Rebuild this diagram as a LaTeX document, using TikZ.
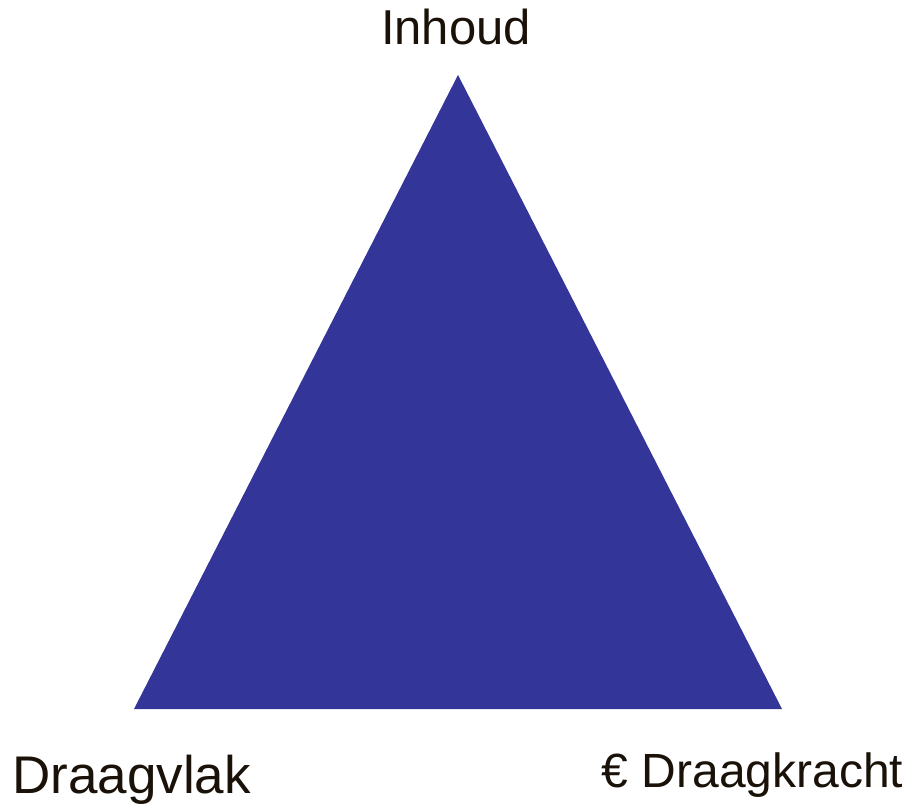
\documentclass[tikz,border=0pt]{standalone}
\usepackage{fontspec}
\setmainfont{Liberation Sans}
\definecolor{triblue}{RGB}{52,53,152}
\definecolor{labelink}{RGB}{26,18,8}
\tikzset{
  corner/.style={anchor=base,text=labelink,inner sep=0pt,font=\fontsize{49}{58}\selectfont},
}
\begin{document}
\begin{tikzpicture}[x=1pt,y=1pt]
\useasboundingbox (0,0) rectangle (912,806);
% corners of the triangle
\coordinate (top) at (458,731);
\coordinate (left) at (134,97);
\coordinate (right) at (782,97);
\fill[triblue] (left) -- (top) -- (right) -- cycle;
% labels
\node[corner] (inhoud) at (456,761) {Inhoud};
\node[corner,font=\fontsize{53}{62}\selectfont] (draagvlak) at (131.5,13) {Draagvlak};
\node[corner,font=\fontsize{48}{57}\selectfont] (draagkracht) at (752.5,19) {€ Draagkracht};
\end{tikzpicture}
\end{document}
